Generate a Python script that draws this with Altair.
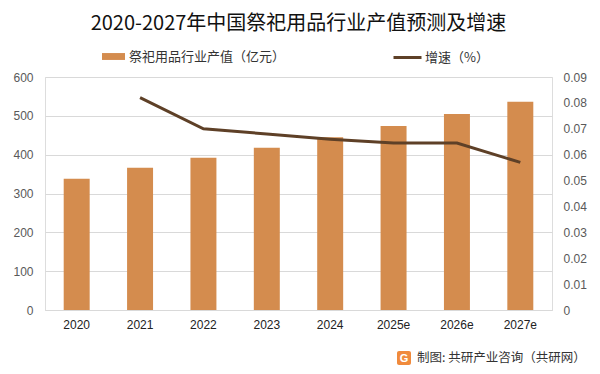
import altair as alt
import pandas as pd

years = ["2020", "2021", "2022", "2023", "2024", "2025e", "2026e", "2027e"]
output = [338, 366, 392, 418, 445, 474, 505, 536]
growth = [None, 0.082, 0.070, 0.068, 0.066, 0.0645, 0.0645, 0.057]
left_ticks = [0, 100, 200, 300, 400, 500, 600]
right_ticks = [0, 0.01, 0.02, 0.03, 0.04, 0.05, 0.06, 0.07, 0.08, 0.09]

bar_name = "祭祀用品行业产值（亿元）"
line_name = "增速（%）"
title_text = "2020-2027年中国祭祀用品行业产值预测及增速"
footer_text = "制图: 共研产业咨询（共研网）"

BAR = "#D48C4E"
LINE = "#5E4027"
CJK = "Noto Sans CJK SC"
NUM = "Liberation Sans"

df = pd.DataFrame({"year": years, "output": output, "growth": growth})

x_enc = alt.X(
    "year:N",
    sort=years,
    scale=alt.Scale(paddingInner=0.59, paddingOuter=0.295),
    axis=alt.Axis(
        title=None, labelAngle=0, labelFont=NUM, labelFontSize=12,
        labelColor="#222222", ticks=False, domainColor="#D9D9D9",
        labelPadding=9,
    ),
)

bars = alt.Chart(df).transform_calculate(s=f"'{bar_name}'").mark_bar().encode(
    x=x_enc,
    y=alt.Y(
        "output:Q",
        scale=alt.Scale(domain=[0, 600]),
        axis=alt.Axis(
            title=None, values=left_ticks, domain=False, ticks=False,
            gridColor="#D9D9D9", labelFont=NUM, labelFontSize=12,
            labelColor="#595959", labelPadding=12,
        ),
    ),
    fill=alt.Fill(
        "s:N",
        scale=alt.Scale(range=[BAR]),
        legend=alt.Legend(
            title=None, orient="none", legendX=57, legendY=-32,
            symbolType="M-1,-0.3L1,-0.3L1,0.3L-1,0.3Z", symbolSize=529,
            symbolStrokeWidth=0, symbolOpacity=1, labelFont=CJK, labelFontSize=13,
            labelColor="#333333", labelOffset=4,
        ),
    ),
)

line = alt.Chart(df).transform_filter("datum.growth != null").transform_calculate(
    s=f"'{line_name}'"
).mark_line(strokeWidth=3).encode(
    x=alt.X("year:N", sort=years),
    y=alt.Y(
        "growth:Q",
        scale=alt.Scale(domain=[0, 0.09]),
        axis=alt.Axis(
            title=None, orient="right", values=right_ticks, format="~g",
            domain=False, ticks=False, grid=False, labelFont=NUM,
            labelFontSize=12, labelColor="#595959", labelPadding=11,
        ),
    ),
    stroke=alt.Stroke(
        "s:N",
        scale=alt.Scale(range=[LINE]),
        legend=alt.Legend(
            title=None, orient="none", legendX=347, legendY=-35,
            symbolType="stroke", symbolSize=784, symbolStrokeWidth=3,
            labelFont=CJK, labelFontSize=13, labelColor="#333333",
            labelOffset=2,
        ),
    ),
)

footer = alt.Chart(pd.DataFrame({"t": [footer_text]})).mark_text(
    align="left", baseline="middle", font=CJK, fontSize=12.5, color="#333333"
).encode(text="t:N", x=alt.value(372), y=alt.value(281))

logo_box = alt.Chart(pd.DataFrame({"t": ["G"]})).mark_rect(
    color="#F08A3C", cornerRadius=2
).encode(x=alt.value(352), x2=alt.value(366), y=alt.value(274), y2=alt.value(288))

logo_g = alt.Chart(pd.DataFrame({"t": ["G"]})).mark_text(
    align="center", baseline="middle", font=NUM, fontSize=11,
    fontWeight="bold", color="white"
).encode(text="t:N", x=alt.value(359), y=alt.value(281.5))

chart = alt.layer(bars, line, footer, logo_box, logo_g).resolve_scale(
    y="independent", fill="independent", stroke="independent"
).properties(
    width=507,
    height=233,
    padding={"left": 37, "top": 69, "right": 40, "bottom": 56},
    autosize=alt.AutoSizeParams(type="none"),
    title=alt.TitleParams(
        title_text, font=CJK, fontSize=20, fontWeight="normal",
        color="#111111", anchor="middle", offset=8,
    ),
).configure_view(stroke=None).configure(background="white")

chart.save("out.html", embed_options={"renderer": "svg", "actions": False})
